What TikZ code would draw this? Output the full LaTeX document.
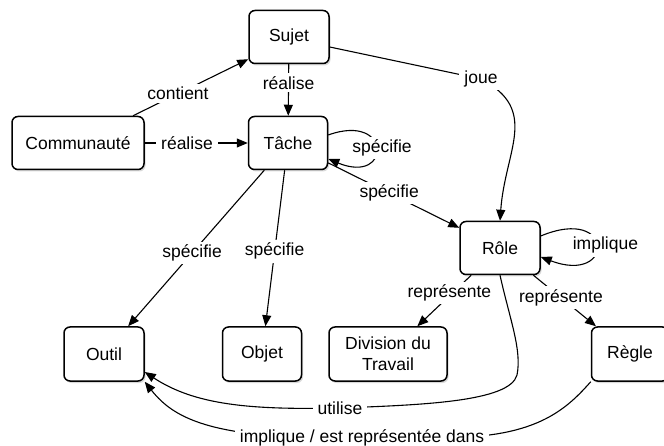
\documentclass[tikz,border=0pt]{standalone}
\usepackage{fontspec}
\setmainfont{Liberation Sans}
\usetikzlibrary{arrows.meta,shadows}
\begin{document}
\begin{tikzpicture}[x=1pt,y=-1pt,
  box/.style={draw,line width=1.5pt,rounded corners=6pt,fill=white,
    minimum height=53pt,inner sep=2pt,align=center,
    font=\fontsize{17.5}{21}\selectfont,
    drop shadow={shadow xshift=1.5pt,shadow yshift=-2pt,opacity=0.3}},
  lbl/.style={fill=white,inner xsep=5pt,inner ysep=3pt,font=\fontsize{17.5}{21}\selectfont},
  link/.style={line width=1.1pt,-{Triangle[length=11pt,width=9pt]}}]
\useasboundingbox (0,0) rectangle (664,446);
\clip (0,0) rectangle (664,446);
% nodes
\node[box,minimum width=80pt] (sujet) at (289,37) {Sujet};
\node[box,minimum width=132pt] (comm) at (78,143) {Communauté};
\node[box,minimum width=79pt] (tache) at (288,143) {Tâche};
\node[box,minimum width=80pt] (role) at (500,248) {Rôle};
\node[box,minimum width=80pt,minimum height=54pt] (outil) at (104,354) {Outil};
\node[box,minimum width=79pt,minimum height=54pt] (objet) at (262,354) {Objet};
\node[box,minimum width=118pt,minimum height=54pt] (div) at (388,354) {Division du\\Travail};
\node[box,minimum width=77pt,minimum height=54pt] (regle) at (630,354) {Règle};
% connectors
\draw[link] ([xshift=55pt]comm.north) -- node[lbl,pos=0.39]{contient} ([yshift=5pt]sujet.south west);
\draw[link] (sujet) -- node[lbl,pos=0.36]{réalise} (tache);
\draw[link] (comm) -- node[lbl,pos=0.41]{réalise} (tache);
\draw[link] ([yshift=-10pt]sujet.east) -- (481,79) node[lbl]{joue}
  .. controls (540,110) and (505,150) .. (role.north);
\draw[link] ([yshift=8pt]tache.east) .. controls (392,112) and (392,185) ..
  node[lbl,pos=0.5,xshift=6pt]{spécifie} ([yshift=-16pt]tache.east);
\draw[link] (tache) -- node[lbl,pos=0.465]{spécifie} (role);
\draw[link] ([yshift=12pt]role.east) .. controls (615,205) and (615,285) ..
  node[lbl,pos=0.5,xshift=9pt]{implique} ([yshift=-9pt]role.east);
\draw[link] (tache) -- node[lbl,pos=0.53]{spécifie} (outil);
\draw[link] (tache) -- node[lbl,pos=0.52]{spécifie} (objet);
\draw[link] (role) -- node[lbl,pos=0.35,xshift=-3pt]{représente} (div);
\draw[link] (role) -- node[lbl,pos=0.44]{représente} (regle);
\draw[link] (role.south) .. controls (510,320) and (522,350) .. (517,375)
  .. controls (510,402) and (420,405) .. (340,408) node[lbl]{utilise}
  .. controls (250,410) and (195,405) .. ([yshift=-18pt]outil.east);
\draw[link] (regle.south west) .. controls (570,405) and (545,430) .. (480,436)
  -- (362,438) node[lbl]{implique / est représentée dans}
  .. controls (215,440) and (175,420) .. (outil.south east);
\end{tikzpicture}
\end{document}
